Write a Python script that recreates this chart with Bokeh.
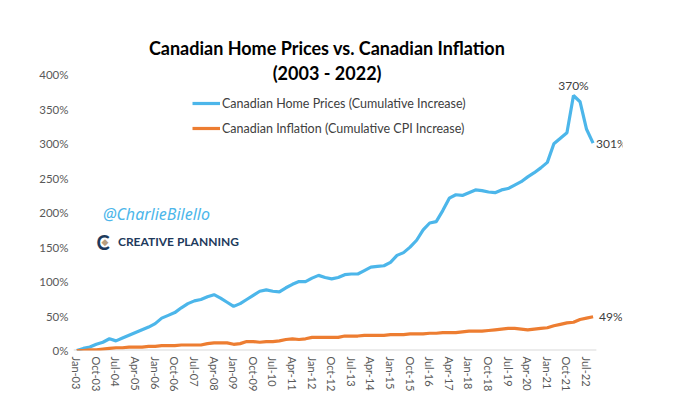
from bokeh.plotting import figure
from bokeh.models import Range1d, FixedTicker, Label, Legend, LegendItem, PrintfTickFormatter
from bokeh.embed import file_html
from bokeh.resources import INLINE

# Quarterly data, Jan-03 .. Oct-22 (cumulative % increase)
home_prices = [0, 3, 5, 9, 12, 17, 14, 18, 22, 26,
               30, 34, 39, 47, 51, 55, 62, 68, 72, 74,
               78, 81, 76, 70, 64, 68, 74, 80, 86, 88,
               86, 85, 91, 96, 100, 100, 105, 109, 106, 104,
               106, 110, 111, 111, 116, 121, 122, 123, 128, 138,
               142, 150, 160, 175, 185, 187, 203, 221, 226, 225,
               229, 233, 232, 230, 229, 233, 235, 240, 245, 252,
               258, 265, 273, 300, 308, 316, 370, 361, 321, 301]
inflation = [0, 0, 1, 1, 2, 3, 4, 4, 5, 5,
             5, 6, 6, 7, 7, 7, 8, 8, 8, 8,
             10, 11, 11, 11, 9, 10, 13, 13, 12, 13,
             13, 14, 16, 17, 16, 17, 19, 19, 19, 19,
             19, 21, 21, 21, 22, 22, 22, 22, 23, 23,
             23, 24, 24, 24, 25, 25, 26, 26, 26, 27,
             28, 28, 28, 29, 30, 31, 32, 32, 31, 30,
             31, 32, 33, 36, 38, 40, 41, 45, 47, 49]
tick_labels = ["Jan-03", "Oct-03", "Jul-04", "Apr-05", "Jan-06", "Oct-06", "Jul-07",
               "Apr-08", "Jan-09", "Oct-09", "Jul-10", "Apr-11", "Jan-12", "Oct-12",
               "Jul-13", "Apr-14", "Jan-15", "Oct-15", "Jul-16", "Apr-17", "Jan-18",
               "Oct-18", "Jul-19", "Apr-20", "Jan-21", "Oct-21", "Jul-22"]
y_ticks = [0, 50, 100, 150, 200, 250, 300, 350, 400]
series_names = ["Canadian Home Prices (Cumulative Increase)",
                "Canadian Inflation (Cumulative CPI Increase)"]
title_lines = ["Canadian Home Prices vs. Canadian Inflation", "(2003 - 2022)"]

n = len(home_prices)
x = list(range(n))
tick_pos = [3 * k for k in range(len(tick_labels))]

FONT = "Lato"
TXT = "#404040"

p = figure(width=674, height=395, output_backend="svg", toolbar_location=None,
           x_range=Range1d(-0.5, n + 3.5), y_range=Range1d(0, 460),
           min_border_left=73, min_border_right=52, min_border_top=33, min_border_bottom=45)
p.outline_line_color = None
p.grid.grid_line_color = None

# category-axis baseline spanning the data categories only
p.segment(x0=[-0.5], y0=[0], x1=[n - 0.5], y1=[0], line_color="#d9d9d9", line_width=2)

r1 = p.line(x, home_prices, line_color="#4cb6ea", line_width=3.2)
r2 = p.line(x, inflation, line_color="#ed7d31", line_width=3.2)

p.yaxis.ticker = FixedTicker(ticks=y_ticks)
p.yaxis.formatter = PrintfTickFormatter(format="%d%%")
p.yaxis.axis_line_color = None
p.yaxis.major_tick_line_color = None
p.yaxis.minor_tick_line_color = None
p.yaxis.major_tick_out = 0
p.yaxis.minor_tick_out = 0
p.yaxis.major_label_standoff = 5
p.yaxis.major_label_text_font = FONT
p.yaxis.major_label_text_font_size = "11.5px"
p.yaxis.major_label_text_color = "#595959"

p.xaxis.ticker = FixedTicker(ticks=tick_pos)
p.xaxis.major_label_overrides = {pos: lab for pos, lab in zip(tick_pos, tick_labels)}
p.xaxis.major_label_orientation = "vertical"
p.xaxis.axis_line_color = None
p.xaxis.major_tick_line_color = None
p.xaxis.minor_tick_line_color = None
p.xaxis.major_tick_out = 0
p.xaxis.minor_tick_out = 0
p.xaxis.major_label_standoff = 6
p.xaxis.major_label_text_font = FONT
p.xaxis.major_label_text_font_size = "11px"
p.xaxis.major_label_text_color = "#595959"

legend = Legend(items=[LegendItem(label=series_names[0], renderers=[r1]),
                       LegendItem(label=series_names[1], renderers=[r2])],
                location=(119, 212), border_line_color=None, background_fill_alpha=0,
                padding=0, margin=0, spacing=5, glyph_width=28, glyph_height=20,
                label_height=20, label_standoff=2,
                label_text_font=FONT, label_text_font_size="12.5px", label_text_color=TXT)
p.add_layout(legend)

# Title (two lines)
p.add_layout(Label(x=38.3, y=439, text=title_lines[0],
                   text_align="center", text_baseline="middle", text_font=FONT,
                   text_font_style="bold", text_font_size="18px", text_color="#000000"))
p.add_layout(Label(x=38.3, y=403, text=title_lines[1],
                   text_align="center", text_baseline="middle", text_font=FONT,
                   text_font_style="bold", text_font_size="18px", text_color="#000000"))

# End / peak annotations
peak_i = home_prices.index(max(home_prices))
p.add_layout(Label(x=peak_i, y=home_prices[peak_i], text=f"{home_prices[peak_i]}%",
                   text_align="center", text_baseline="bottom", y_offset=3,
                   text_font=FONT, text_font_size="12px", text_color=TXT))
p.add_layout(Label(x=x[-1], y=home_prices[-1], text=f"{home_prices[-1]}%",
                   text_align="left", text_baseline="middle", x_offset=3,
                   text_font=FONT, text_font_size="12px", text_color=TXT))
p.add_layout(Label(x=x[-1], y=inflation[-1], text=f"{inflation[-1]}%",
                   text_align="left", text_baseline="middle", x_offset=6,
                   text_font=FONT, text_font_size="12px", text_color=TXT))

# Watermark
p.add_layout(Label(x=4.0, y=198.5, text="@CharlieBilello", text_align="left",
                   text_baseline="middle", text_font="Noto Sans", text_font_style="italic",
                   text_font_size="16px", text_color="#4cb6ea"))
p.add_layout(Label(x=3.0, y=158, text="C", text_align="left", text_baseline="middle",
                   text_font=FONT, text_font_style="bold", text_font_size="20px",
                   text_color="#1e3a5c"))
p.add_layout(Label(x=3.0, y=158, x_offset=5, text="\u25c6", text_align="left",
                   text_baseline="middle", text_font="DejaVu Sans",
                   text_font_size="9px", text_color="#b89f7e"))
p.add_layout(Label(x=6.3, y=158, text="CREATIVE PLANNING", text_align="left",
                   text_baseline="middle", text_font=FONT, text_font_style="bold",
                   text_font_size="12px", text_color="#1e3a5c"))

open("out.html", "w").write(file_html(p, INLINE))
